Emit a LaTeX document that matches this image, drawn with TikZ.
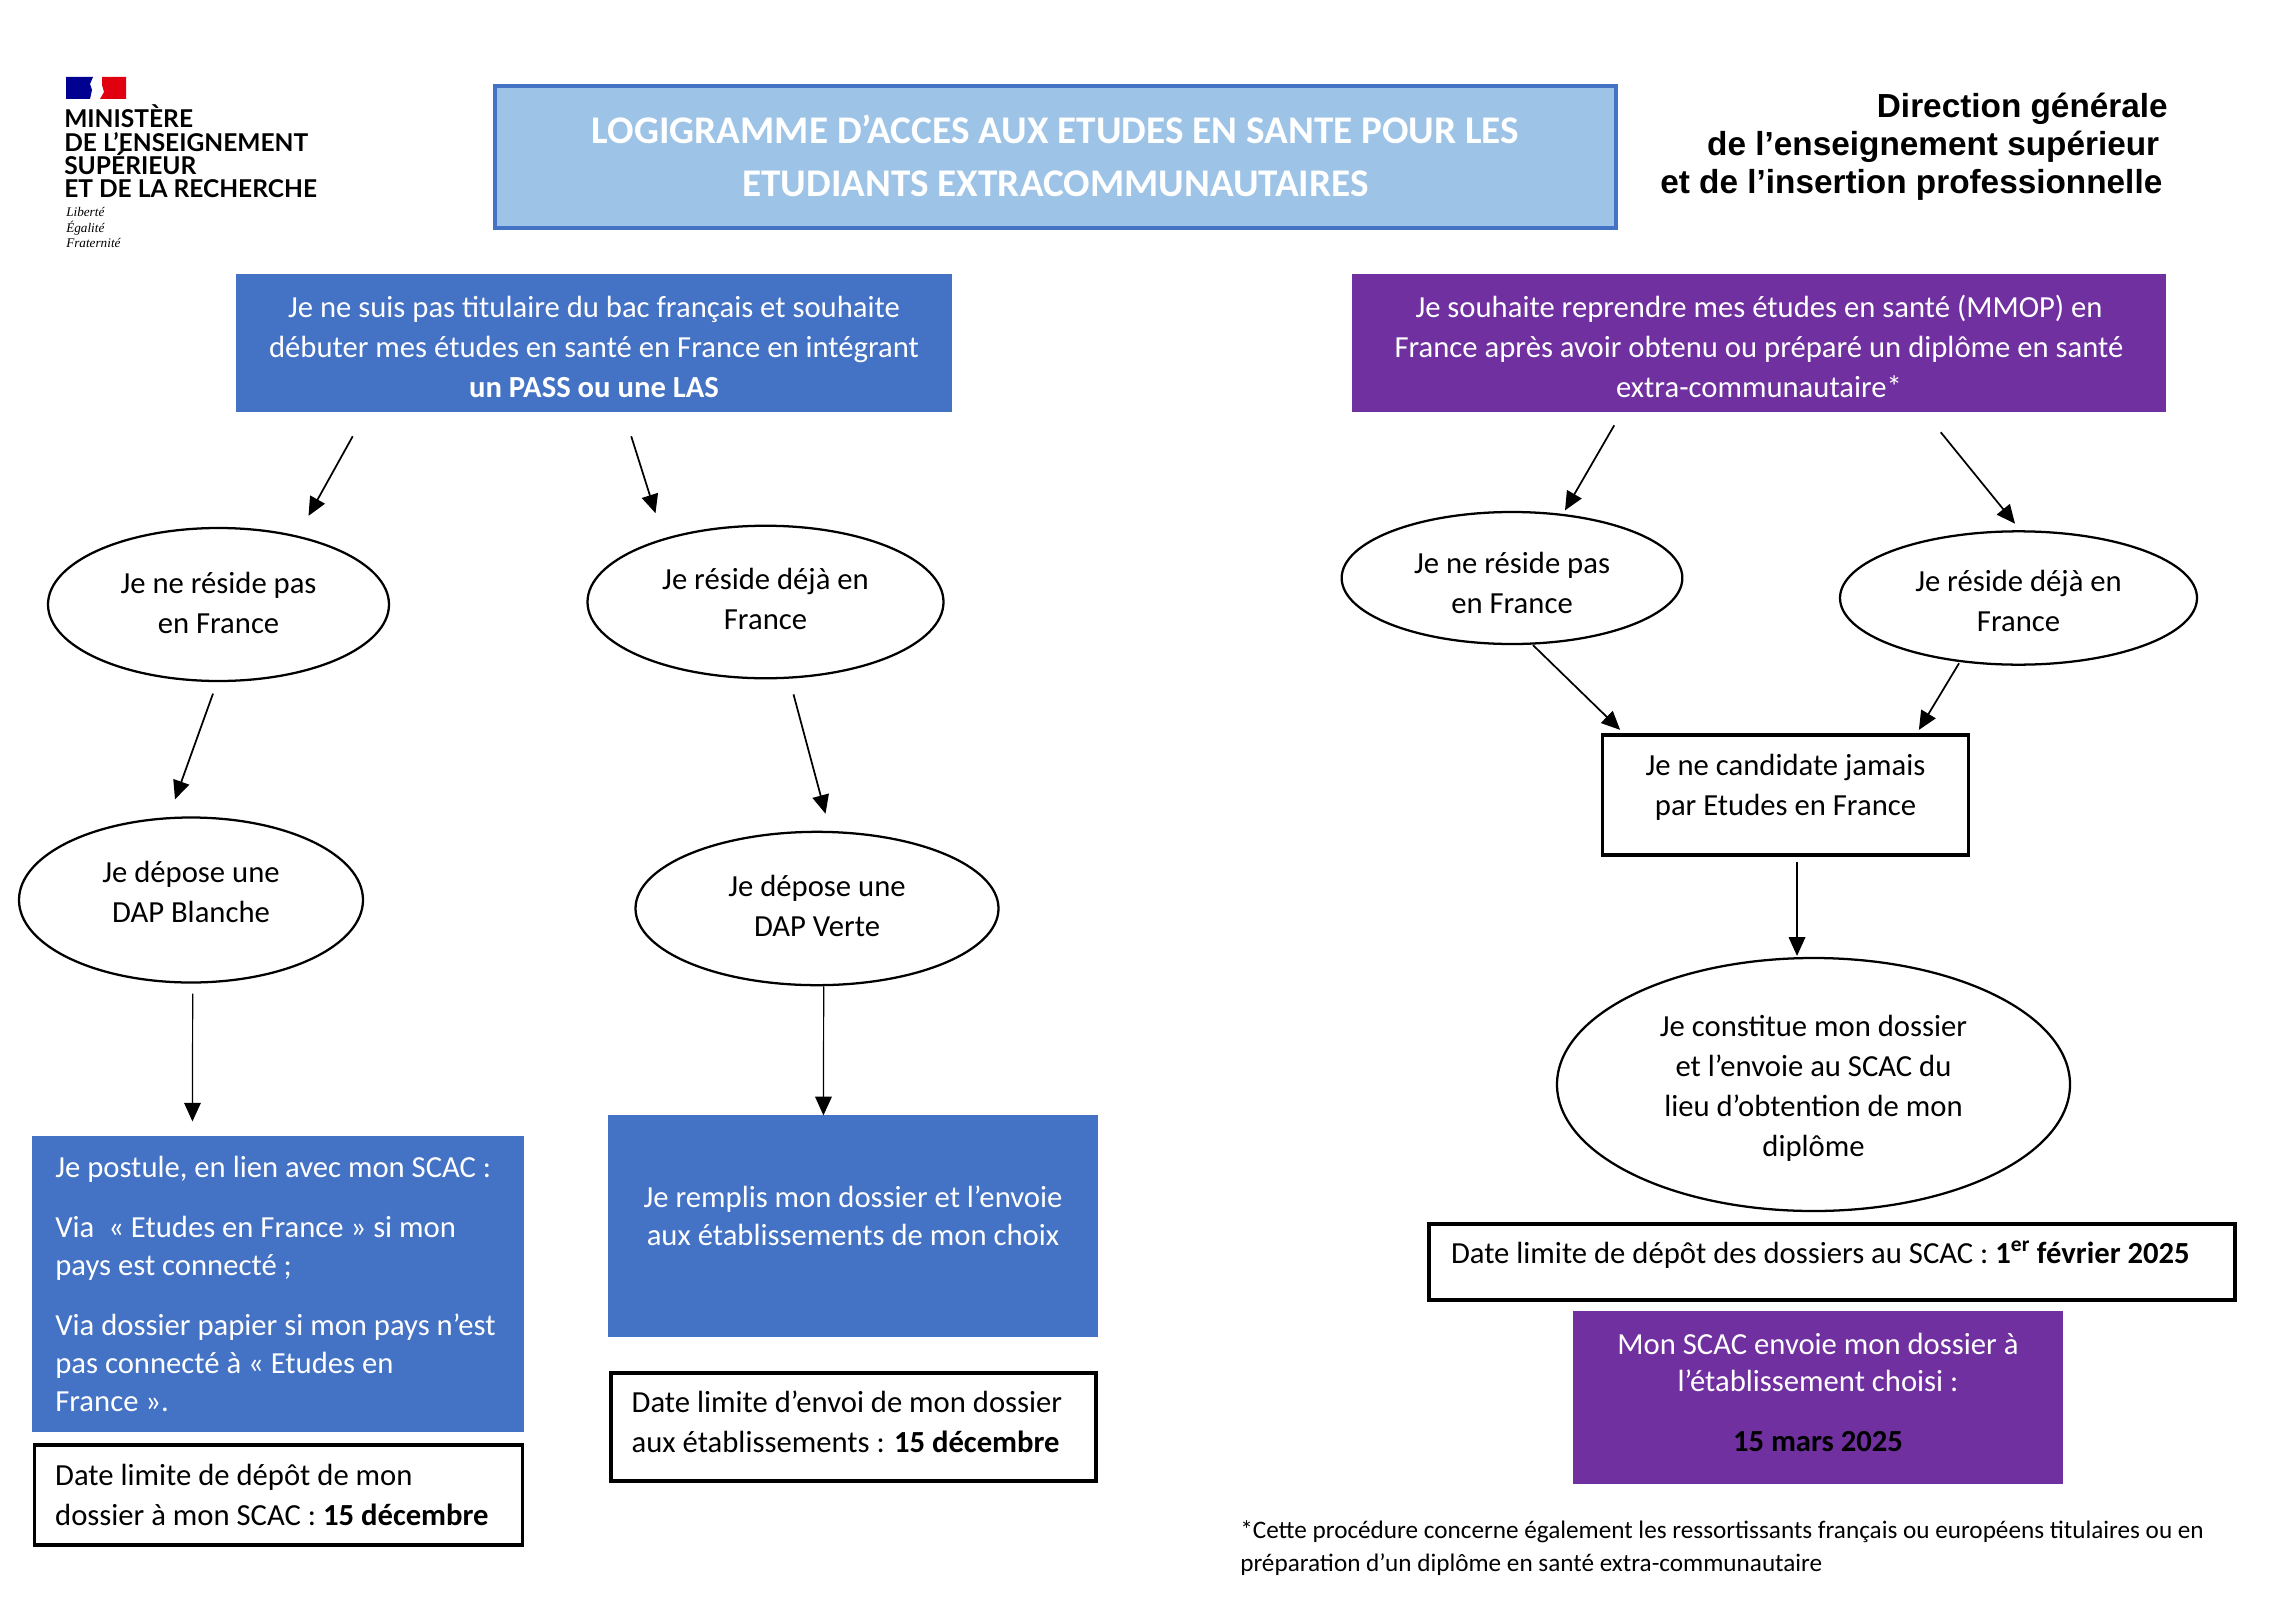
\documentclass[tikz,border=0pt]{standalone}
\usepackage{fontspec}
\setmainfont{Carlito}
\newfontfamily\headfont{Liberation Sans}
\newfontfamily\logofont{Lato}
\newfontfamily\mottofont{Liberation Serif}
\definecolor{passblue}{HTML}{4472C4}
\definecolor{titleblue}{HTML}{9DC3E6}
\definecolor{mmoppurple}{HTML}{7030A0}
\usetikzlibrary{arrows.meta}
\usetikzlibrary{positioning}
\usetikzlibrary{shapes.geometric}

\begin{document}
\begin{tikzpicture}[
				x=0.75pt, y=-0.75pt,
				every node/.style={inner sep=0pt, node font=\fontsize{23}{30}\selectfont},
				bluebox/.style={fill=passblue, text=white, align=center},
				purplebox/.style={fill=mmoppurple, text=white, align=center},
				datebox/.style={draw, line width=2.5pt, align=flush left, inner xsep=15.5pt},
				bubble/.style={draw, ellipse, line width=1.7pt, align=center},
				flow/.style={line width=1.3pt, -{Triangle[length=14pt, width=12.5pt]}},
				thinflow/.style={flow, line width=0.9pt},
			]
				\useasboundingbox (0,0) rectangle (2286,1605);

				% logo
				\fill[fill={rgb,255:red,0;green,0;blue,145}] (66,77) -- (93,77) -- (90,84) -- (92,90) -- (90,99) -- (66,99) -- cycle;
				\fill[fill={rgb,255:red,225;green,0;blue,15}] (102,77) -- (126,77) -- (126,99) -- (100,99) -- (104,92) -- (102,85) -- cycle;
				\node[anchor=north west, align=flush left, node font=\logofont\bfseries\fontsize{18.4}{17.6}\selectfont] (ministere) at (64,104.5) {MINISTÈRE\\DE L’ENSEIGNEMENT\\SUPÉRIEUR\\ET DE LA RECHERCHE};
				\node[anchor=north west, align=flush left, node font=\mottofont\itshape\fontsize{9.9}{11.7}\selectfont] (devise) at (66,207) {Liberté\\Égalité\\Fraternité};

				% header
				\node[draw=passblue, fill=titleblue, line width=3pt, text=white, align=center, minimum width=840.75pt, minimum height=106.5pt, text depth=2.2pt, node font=\bfseries\fontsize{29.4}{39.5}\selectfont] (titre) at (1055.5,157) {LOGIGRAMME D’ACCES AUX ETUDES EN SANTE POUR LES\\ETUDIANTS EXTRACOMMUNAUTAIRES};
				\node[anchor=north east, align=right, node font=\headfont\bfseries\fontsize{25}{28.5}\selectfont] (dgesip) at (2168,92.5) {Direction générale\\de l’enseignement supérieur\kern6.4pt\\et de l’insertion professionnelle\kern4.1pt};

				% top boxes
				\node[bluebox, minimum width=537pt, minimum height=103.5pt, text height=82pt] (pass) at (594,343) {Je ne suis pas titulaire du bac français et souhaite\\débuter mes études en santé en France en intégrant\\\textbf{un PASS ou une LAS}};
				\node[purplebox, minimum width=610.5pt, minimum height=103.5pt, text height=82.5pt] (mmop) at (1759,343) {Je souhaite reprendre mes études en santé (MMOP) en\\France après avoir obtenu ou préparé un diplôme en santé\\extra-communautaire*};

				% left branch
				\node[bubble, minimum width=255.75pt, minimum height=114.75pt, text depth=3.2pt] (e1) at (218.5,604.5) {Je ne réside pas\\en France};
				\node[bubble, minimum width=267pt, minimum height=114.4pt, text depth=5pt] (e2) at (765.5,602) {Je réside déjà en\\France};
				\node[bubble, minimum width=258pt, minimum height=123.75pt, text depth=11.6pt] (e3) at (191,900) {Je dépose une\\DAP Blanche};
				\node[bubble, minimum width=272.25pt, minimum height=115pt, text depth=3.6pt] (e4) at (817,908.5) {Je dépose une\\DAP Verte};

				\node[bluebox, align=flush left, text width=334pt, inner xsep=17.5pt, minimum height=222pt, node font=\fontsize{23}{28.5}\selectfont] (postule) at (278,1284) {Je postule, en lien avec mon SCAC :\\[16.5pt]Via ~« Etudes en France » si mon\\pays est connecté ;\\[16.5pt]Via dossier papier si mon pays n’est\\pas connecté à « Etudes en\\France ».};
				\node[datebox, text width=335pt, minimum height=75pt] (datescac) at (278.5,1495) {Date limite de dépôt de mon\\dossier à mon SCAC : \textbf{15 décembre}};
				\node[bluebox, minimum width=367.5pt, minimum height=166.5pt, text depth=16pt, node font=\fontsize{23}{28.5}\selectfont] (remplis) at (853,1226) {Je remplis mon dossier et l’envoie\\aux établissements de mon choix};
				\node[datebox, text width=332.75pt, minimum height=81pt, text depth=38pt] (dateenvoi) at (853.5,1427) {Date limite d’envoi de mon dossier\\aux établissements : \textbf{15 décembre}};

				% right branch
				\node[bubble, minimum width=255.5pt, minimum height=99pt, text height=54pt] (e5) at (1512,578) {Je ne réside pas\\en France};
				\node[bubble, minimum width=267.75pt, minimum height=100pt, text height=51pt] (e6) at (2018.5,598) {Je réside déjà en\\France};
				\node[draw, line width=2.8pt, align=center, minimum width=274.5pt, minimum height=89.6pt, text depth=15pt] (cand) at (1785.5,795) {Je ne candidate jamais\\par Etudes en France};
				\node[bubble, minimum width=384.75pt, minimum height=189.75pt, text height=112pt] (e7) at (1813.5,1084.5) {Je constitue mon dossier\\et l’envoie au SCAC du\\lieu d’obtention de mon\\diplôme};
				\node[datebox, inner xsep=16.5pt, text width=571.5pt, minimum height=57pt, text depth=15.4pt] (datefev) at (1832,1262) {Date limite de dépôt des dossiers au SCAC : \textbf{1\textsuperscript{er} février 2025}};
				\node[purplebox, minimum width=367.5pt, minimum height=129.75pt, text depth=7.6pt, node font=\fontsize{23}{28}\selectfont] (envoi) at (1818,1397.5) {Mon SCAC envoie mon dossier à\\l’établissement choisi :\\[17pt]\textcolor{black}{\textbf{15 mars 2025}}};
				\node[anchor=north west, align=flush left, node font=\fontsize{18.9}{25}\selectfont] (note) at (1240,1520) {*Cette procédure concerne également les ressortissants français ou européens titulaires ou en\\préparation d’un diplôme en santé extra-communautaire};

				% arrow ends
				\path (pass.south west) ++(117,24) coordinate (a1) ++(278.5,0) coordinate (a2);
				\path (e1.north) ++(90,-11) coordinate (b1);
				\path (e2.north) ++(-110,-11.4) coordinate (b2);
				\path (e1.south) ++(-5.5,11.5) coordinate (a3);
				\path (e3.north) ++(-16,-17) coordinate (b3);
				\path (e2.south) ++(28,15) coordinate (a4);
				\path (e4.north) ++(8.5,-17) coordinate (b4);
				\path (e3.south) ++(1.7,10) coordinate (a5);
				\path (postule.north west) ++(160.7,-14.3) coordinate (b5);
				\path (e4.south) ++(6.7,0) coordinate (a6);
				\path (remplis.north west) ++(215.7,0.6) coordinate (b6);
				\path (mmop.south west) ++(262.5,13) coordinate (a7) ++(326.5,7) coordinate (a8);
				\path (e5.north) ++(53,-0.5) coordinate (b7);
				\path (e6.north) ++(-3.5,-6.5) coordinate (b8);
				\path (e5.south) ++(21,0) coordinate (a9);
				\path (cand.north west) ++(19.5,-3.5) coordinate (b9);
				\path (e6.south) ++(-59.5,-2.5) coordinate (a10);
				\path (cand.north east) ++(-51.5,-3.5) coordinate (b10);
				\path (cand.south) ++(11.5,5) coordinate (a11);
				\path (e7.north) ++(-16.5,-1) coordinate (b11);

				\draw[flow] (a1) -- (b1);
				\draw[flow] (a2) -- (b2);
				\draw[flow] (a3) -- (b3);
				\draw[flow] (a4) -- (b4);
				\draw[thinflow] (a5) -- (b5);
				\draw[thinflow] (a6) -- (b6);
				\draw[flow] (a7) -- (b7);
				\draw[flow] (a8) -- (b8);
				\draw[flow] (a9) -- (b9);
				\draw[flow] (a10) -- (b10);
				\draw[thinflow] (a11) -- (b11);
			\end{tikzpicture}
\end{document}
